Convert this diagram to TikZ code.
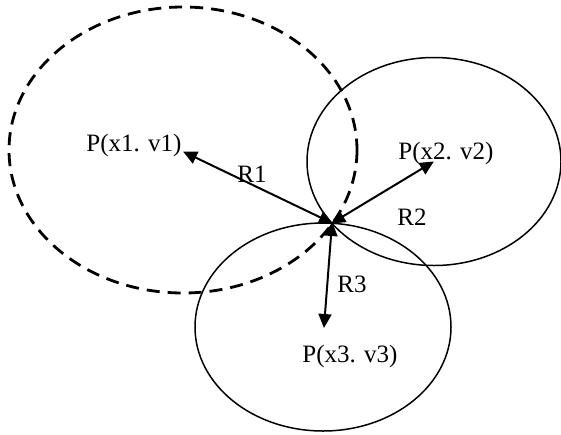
\documentclass[tikz,border=0pt]{standalone}
\usepackage{fontspec}
\setmainfont{Liberation Serif}
\usepackage{tikz}
\usetikzlibrary{arrows.meta,positioning}

\begin{document}
\begin{tikzpicture}[
    x=1pt, y=-1pt,
    circ/.style={draw=black, line width=1.5pt},
    dcirc/.style={draw=black, line width=2.8pt, dash pattern=on 13pt off 8pt},
    lbl/.style={font=\fontsize{25}{30}\selectfont, inner sep=0pt, anchor=base},
    arr/.style={{Triangle[length=14pt,width=13pt]}-{Triangle[length=14pt,width=13pt]}, line width=2pt, shorten <=-1pt, shorten >=-1pt}]
\useasboundingbox (0,0) rectangle (561,434);
\coordinate (c1) at (184,152);
\coordinate (c2) at (433,162);
\coordinate (c3) at (324,327);
\coordinate (m) at (332,223);
\draw[dcirc] (183,150) ellipse [x radius=174, y radius=143];
\draw[circ] (434,161.5) ellipse [x radius=127, y radius=104];
\draw[circ] (323,327) ellipse [x radius=128, y radius=104];
\node[lbl] (p1) at (134,151) {P(x1. v1)};
\node[lbl] (p2) at (446,159) {P(x2. v2)};
\node[lbl] (p3) at (350,362) {P(x3. v3)};
\node[lbl] (r1) at (252,182) {R1};
\node[lbl] (r2) at (412,225) {R2};
\node[lbl] (r3) at (352,292) {R3};
\draw[arr] (c1) -- (m);
\draw[arr] (c2) -- (m);
\draw[arr] (c3) -- (m);
\end{tikzpicture}
\end{document}
